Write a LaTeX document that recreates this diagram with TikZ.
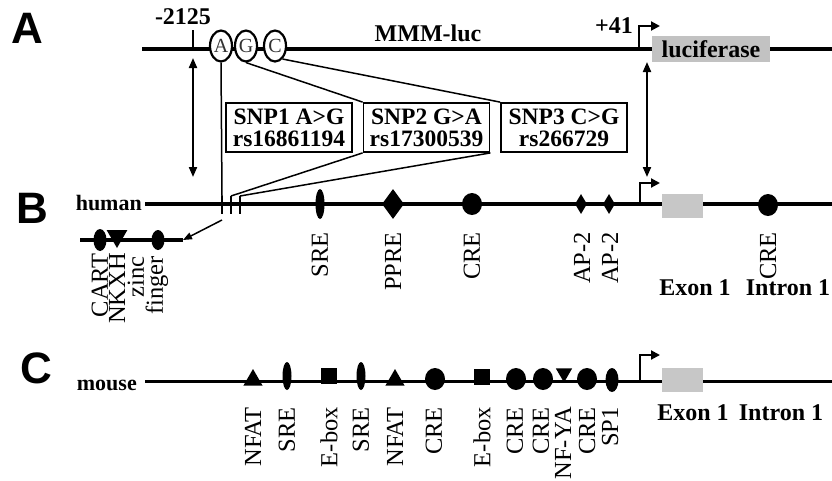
\documentclass[tikz,border=0pt]{standalone}
\usepackage{fontspec}
\setmainfont{Liberation Serif}
\newfontfamily\panelfont{Liberation Sans}
\usepackage{tikz}
\usetikzlibrary{shapes.geometric, arrows.meta, positioning}
\definecolor{exongray}{gray}{0.78}
\definecolor{lucgray}{gray}{0.76}

\begin{document}
\begin{tikzpicture}[x=1pt, y=-1pt,
    dna/.style={line width=4pt},
    panel/.style={font=\panelfont\bfseries\fontsize{44}{44}\selectfont, inner sep=0pt},
    tag/.style={font=\bfseries\fontsize{24}{24}\selectfont, inner sep=0pt},
    species/.style={font=\bfseries\fontsize{22}{22}\selectfont, inner sep=0pt, anchor=base east},
    sitelabel/.style={rotate=90, anchor=east, inner sep=0pt, align=right, font=\fontsize{24.5}{19}\selectfont},
    site/.style={fill=black, inner sep=0pt},
    sre/.style={site, ellipse, minimum width=9pt, minimum height=30pt},
    cre/.style={site, ellipse, minimum width=20pt, minimum height=22pt},
    ppre/.style={site, diamond, minimum width=22pt, minimum height=30pt},
    aptwo/.style={site, diamond, minimum width=12pt, minimum height=20pt},
    nfat/.style={site, regular polygon, regular polygon sides=3, minimum size=22pt},
    nfya/.style={nfat, shape border rotate=180, minimum size=19pt},
    ebox/.style={site, rectangle, minimum size=16pt},
    spone/.style={site, ellipse, minimum width=13pt, minimum height=24pt},
    exon/.style={fill=exongray, inner sep=0pt, minimum width=41pt, minimum height=24pt},
    snp/.style={draw, line width=2.2pt, ellipse, fill=white, minimum width=22pt, minimum height=31pt,
                inner sep=0pt, text=black!80, font=\fontsize{20}{20}\selectfont},
    snpbox/.style={draw, line width=1.8pt, minimum width=126pt, minimum height=49pt, inner sep=0pt,
                   align=center, font=\bfseries\fontsize{23.5}{22}\selectfont},
    promoter/.style={line width=2pt, -{Triangle[length=9pt,width=9pt]}},
    span/.style={line width=2pt, {Triangle[length=10pt,width=8pt]}-{Triangle[length=10pt,width=8pt]}},
    link/.style={line width=1.5pt}]
  \useasboundingbox (0,0) rectangle (832,480);

  % panel letters and species
  \node[panel] (pA) at (27,28) {A};
  \node[panel] (pB) at (32,208) {B};
  \node[panel] (pC) at (36,368) {C};
  \node[species] (human) at (142,210) {human};
  \node[species] (mouse) at (137,390) {mouse};

  % backbones
  \coordinate (a0) at (142,49);  \coordinate (a1) at (832,49);
  \coordinate (b0) at (145,204); \coordinate (b1) at (832,204);
  \coordinate (c0) at (145,381); \coordinate (c1) at (832,381);
  \coordinate (i0) at (80,240);  \coordinate (i1) at (183,240);
  \draw[dna] (a0) -- (a1);
  \draw[dna] (b0) -- (b1);
  \draw[line width=3pt] (c0) -- (c1);
  \draw[dna] (i0) -- (i1);

  % A: MMM-luc construct
  \coordinate (start) at (193,49);
  \coordinate (startTop) at (193,30);
  \draw[line width=2pt] (start) -- (startTop);
  \node[tag] (pos1) at (183,17) {-2125};
  \node[tag] (mmm) at (428,33) {MMM-luc};
  \node[tag] (pos2) at (614,26) {+41};
  \coordinate (tssA) at (639,49);
  \coordinate (tssAend) at (660,26);
  \draw[promoter] (tssA) |- (tssAend);
  \node[tag, fill=lucgray, minimum width=118pt, minimum height=26pt] (luc) at (711,49) {luciferase};
  \node[snp] (snpA) at (221,46) {A};
  \node[snp] (snpG) at (246,46) {G};
  \node[snp] (snpC) at (275,46) {C};

  \node[snpbox] (box1) at (289,127.5) {SNP1 A>G\\rs16861194};
  \node[snpbox] (box2) at (426.5,127.5) {SNP2 G>A\\rs17300539};
  \node[snpbox] (box3) at (564,127.5) {SNP3 C>G\\rs266729};

  \coordinate (spanLtop) at (193,58);  \coordinate (spanLbot) at (193,177);
  \coordinate (spanRtop) at (647,62);  \coordinate (spanRbot) at (647,177);
  \draw[span] (spanLtop) -- (spanLbot);
  \draw[span] (spanRtop) -- (spanRbot);

  % B: human promoter
  \coordinate (tick1) at (222,196);
  \coordinate (tick2) at (231,196);
  \coordinate (tick3) at (240,196);
  \draw[line width=2.5pt] (tick1) -- ++(0,18);
  \draw[line width=2.5pt] (tick2) -- ++(0,18);
  \draw[line width=2.5pt] (tick3) -- ++(0,18);
  \draw[link] (snpA.south) -- (tick1);
  \draw[link] (snpG.south) -- (box2.north west) (box2.south west) -- (tick2);
  \draw[link] (snpC.-60) -- (box3.north west) (box2.south east) -- (tick3);
  \coordinate (zoomFrom) at (222,220);
  \draw[link, -{Triangle[length=9pt,width=7pt]}] (zoomFrom) -- (i1);

  \node[site, ellipse, minimum width=13pt, minimum height=22pt] (cart) at (100,240) {};
  \node[nfat, shape border rotate=180, minimum size=24pt] (nkxh) at (117,236) {};
  \node[site, ellipse, minimum width=13pt, minimum height=20pt] (zinc) at (158,240) {};
  \node[sitelabel] at (100,253) {CART};
  \node[sitelabel] at (117,253) {NKXH};
  \node[sitelabel] at (148,256) {zinc\\finger};

  \node[sre] (hsre) at (320,204) {};
  \node[ppre] (hppre) at (393,204) {};
  \node[cre] (hcre) at (472,204) {};
  \node[aptwo] (hap1) at (581,204) {};
  \node[aptwo] (hap2) at (609,204) {};
  \coordinate (tssB) at (640,204);
  \coordinate (tssBend) at (660,183);
  \draw[promoter] (tssB) |- (tssBend);
  \node[exon] (hexon) at (682.5,206) {};
  \node[cre] (hcre2) at (768,205) {};
  \node[sitelabel] at (320,232) {SRE};
  \node[sitelabel] at (393,232) {PPRE};
  \node[sitelabel] at (472,232) {CRE};
  \node[sitelabel] at (582,232) {AP-2};
  \node[sitelabel] at (610,232) {AP-2};
  \node[sitelabel] at (768,232) {CRE};
  \node[tag] (hex) at (695,288) {Exon 1};
  \node[tag] (hin) at (788,288) {Intron 1};

  % C: mouse promoter
  \node[nfat] (mnfat1) at (253,380) {};
  \node[sre, minimum height=28pt] (msre1) at (287,376) {};
  \node[ebox] (mebox1) at (329,376) {};
  \node[sre, minimum height=28pt] (msre2) at (361,376) {};
  \node[nfat] (mnfat2) at (395,380) {};
  \node[cre] (mcre1) at (435,379) {};
  \node[ebox] (mebox2) at (482,377) {};
  \node[cre] (mcre2) at (516,379) {};
  \node[cre] (mcre3) at (543,379) {};
  \node[nfya] (mnfya) at (564,373) {};
  \node[cre] (mcre4) at (587,379) {};
  \node[spone] (msp1) at (612,380) {};
  \coordinate (tssC) at (640,381);
  \coordinate (tssCend) at (660,355);
  \draw[promoter] (tssC) |- (tssCend);
  \node[exon] (mexon) at (682.5,380) {};
  \node[sitelabel] at (253,407) {NFAT};
  \node[sitelabel] at (287,407) {SRE};
  \node[sitelabel] at (329,407) {E-box};
  \node[sitelabel] at (361,407) {SRE};
  \node[sitelabel] at (395,407) {NFAT};
  \node[sitelabel] at (434,407) {CRE};
  \node[sitelabel] at (482,407) {E-box};
  \node[sitelabel] at (515,407) {CRE};
  \node[sitelabel] at (541,407) {CRE};
  \node[sitelabel] at (563,407) {NF-YA};
  \node[sitelabel] at (587,407) {CRE};
  \node[sitelabel] at (610,407) {SP1};
  \node[tag] (mex) at (693,413) {Exon 1};
  \node[tag] (min) at (781,413) {Intron 1};
\end{tikzpicture}
\end{document}
